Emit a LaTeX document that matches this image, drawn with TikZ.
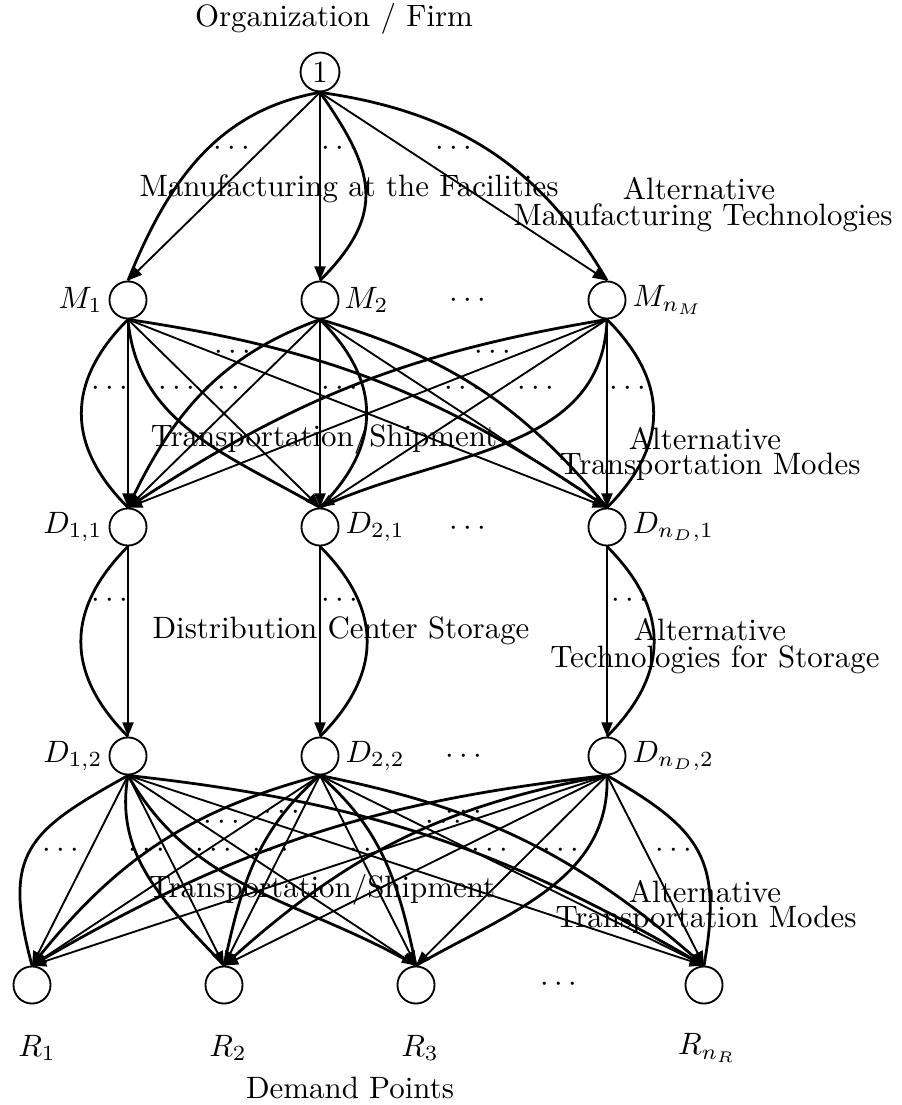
\documentclass[tikz,border=0pt]{standalone}
\usetikzlibrary{arrows.meta}
\begin{document}
\begin{tikzpicture}[x=0.3236pt,y=-0.3236pt,
  nd/.style={circle,draw,line width=0.6pt,minimum size=12pt,inner sep=0pt},
  ln/.style={line width=0.6pt,-{Triangle[length=4.6pt,width=3.6pt]}},
  cv/.style={line width=0.9pt},
  lbl/.style={inner sep=0pt},
  txt/.style={inner sep=0pt,anchor=base},
  dt/.style={inner sep=0pt,anchor=base,yshift=-2.5pt}]
\path[use as bounding box] (0,0) rectangle (901,1105);
% nodes
\node[nd,minimum size=12.6pt] (n1) at (320,72) {1};
\node[nd] (M1) at (128,300) {};
\node[nd] (M2) at (320,300) {};
\node[nd] (Mn) at (607,300) {};
\node[nd] (D11) at (128,527) {};
\node[nd] (D21) at (320,527) {};
\node[nd] (Dn1) at (607,527) {};
\node[nd] (D12) at (128,756) {};
\node[nd] (D22) at (320,756) {};
\node[nd] (Dn2) at (607,756) {};
\node[nd] (R1) at (32,985) {};
\node[nd] (R2) at (224,985) {};
\node[nd] (R3) at (416,985) {};
\node[nd] (Rn) at (704,985) {};
% node labels
\node[lbl,anchor=east] (lM1) at (103,300) {$M_1$};
\node[lbl,anchor=west] (lM2) at (344,300) {$M_2$};
\node[lbl,anchor=west] (lMn) at (632,300) {$M_{n_M}$};
\node[lbl,anchor=east] (lD11) at (103,527) {$D_{1,1}$};
\node[lbl,anchor=west] (lD21) at (345,527) {$D_{2,1}$};
\node[lbl,anchor=west] (lDn1) at (632,527) {$D_{n_D,1}$};
\node[lbl,anchor=east] (lD12) at (103,756) {$D_{1,2}$};
\node[lbl,anchor=west] (lD22) at (345,756) {$D_{2,2}$};
\node[lbl,anchor=west] (lDn2) at (632,756) {$D_{n_D,2}$};
\node[lbl] (lR1) at (37,1048) {$R_1$};
\node[lbl] (lR2) at (228,1048) {$R_2$};
\node[lbl] (lR3) at (420,1048) {$R_3$};
\node[lbl] (lRn) at (707,1048) {$R_{n_R}$};
% row ellipses
\node[dt] (e1) at (468,300) {$\cdots$};
\node[dt] (e2) at (468,528) {$\cdots$};
\node[dt] (e3) at (464,756) {$\cdots$};
\node[dt] (e4) at (559,984) {$\cdots$};
% texts
\node[txt] (t0) at (334,27) {Organization / Firm};
\node[txt] (t1) at (349,197) {Manufacturing at the Facilities};
\node[txt] (t2) at (699,200) {Alternative};
\node[txt] (t3) at (703,226) {Manufacturing Technologies};
\node[txt] (t4) at (324,447) {Transportation/Shipment};
\node[txt] (t5) at (705,450) {Alternative};
\node[txt] (t6) at (710,475) {Transportation Modes};
\node[txt] (t7) at (341,638) {Distribution Center Storage};
\node[txt] (t8) at (710,640) {Alternative};
\node[txt] (t9) at (715,667) {Technologies for Storage};
\node[txt] (t10) at (322,897) {Transportation/Shipment};
\node[txt] (t11) at (705,902) {Alternative};
\node[txt] (t12) at (706,927) {Transportation Modes};
\node[txt] (t13) at (350,1098) {Demand Points};
% edge dots
\foreach \x/\y in {232/148,340/148,454/148,
  233/352,493/352,110/388,177/388,222/388,340/388,463/388,536/388,628/388,
  110/600,340/600,630/600,
  282/812,464/812,222/822,444/822,
  61/850,147/850,214/850,271/850,368/850,490/850,561/850,674/850}
  \node[dt] at (\x,\y) {$\cdots$};
% top layer
\draw[ln] (n1.south) -- (M1.north);
\draw[ln] (n1.south) -- (M2.north);
\draw[ln] (n1.south) -- (Mn.north);
\draw[cv] (n1.south) to[out=190,in=68] (M1.north);
\draw[cv] (n1.south) to[out=-55,in=45,looseness=1.3] (M2.north);
\draw[cv] (n1.south) to[out=-8,in=120] (Mn.north);
% manufacturing -> distribution
\foreach \a in {M1,M2,Mn}
  \foreach \b in {D11,D21,Dn1}
    \draw[ln] (\a.south) -- (\b.north);
\draw[cv] (M1.south) to[out=-135,in=135,looseness=1.2] (D11.north);
\draw[cv] (M1.south) to[out=-85,in=150] (D21.north);
\draw[cv] (M1.south) to[bend left=13] (Dn1.north);
\draw[cv] (M2.south) to[out=200,in=65] (D11.north);
\draw[cv] (M2.south) to[out=-45,in=45,looseness=1.2] (D21.north);
\draw[cv] (M2.south) to[bend left=17] (Dn1.north);
\draw[cv] (Mn.south) to[bend right=12] (D11.north);
\draw[cv] (Mn.south) to[out=-92,in=25] (D21.north);
\draw[cv] (Mn.south) to[out=-45,in=45,looseness=1.2] (Dn1.north);
% storage
\draw[ln] (D11.south) -- (D12.north);
\draw[ln] (D21.south) -- (D22.north);
\draw[ln] (Dn1.south) -- (Dn2.north);
\draw[cv] (D11.south) to[out=-135,in=135,looseness=1.2] (D12.north);
\draw[cv] (D21.south) to[out=-45,in=45,looseness=1.2] (D22.north);
\draw[cv] (Dn1.south) to[out=-45,in=45,looseness=1.2] (Dn2.north);
% distribution -> demand
\foreach \a in {D12,D22,Dn2}
  \foreach \b in {R1,R2,R3,Rn}
    \draw[ln] (\a.south) -- (\b.north);
\draw[cv] (D12.south) to[out=209,in=105,looseness=1.4] (R1.north);
\draw[cv] (D12.south) to[out=-100,in=133] (R2.north);
\draw[cv] (D12.south) to[out=-60,in=150] (R3.north);
\draw[cv] (D12.south) to[bend left=12] (Rn.north);
\draw[cv] (D22.south) to[out=195,in=52] (R1.north);
\draw[cv] (D22.south) to[out=-139,in=78] (R2.north);
\draw[cv] (D22.south) to[out=-41,in=102] (R3.north);
\draw[cv] (D22.south) to[bend left=15] (Rn.north);
\draw[cv] (Dn2.south) to[bend right=12] (R1.north);
\draw[cv] (Dn2.south) to[bend right=16] (R2.north);
\draw[cv] (Dn2.south) to[out=-88,in=30] (R3.north);
\draw[cv] (Dn2.south) to[out=-30,in=80,looseness=1.3] (Rn.north);
\end{tikzpicture}
\end{document}
